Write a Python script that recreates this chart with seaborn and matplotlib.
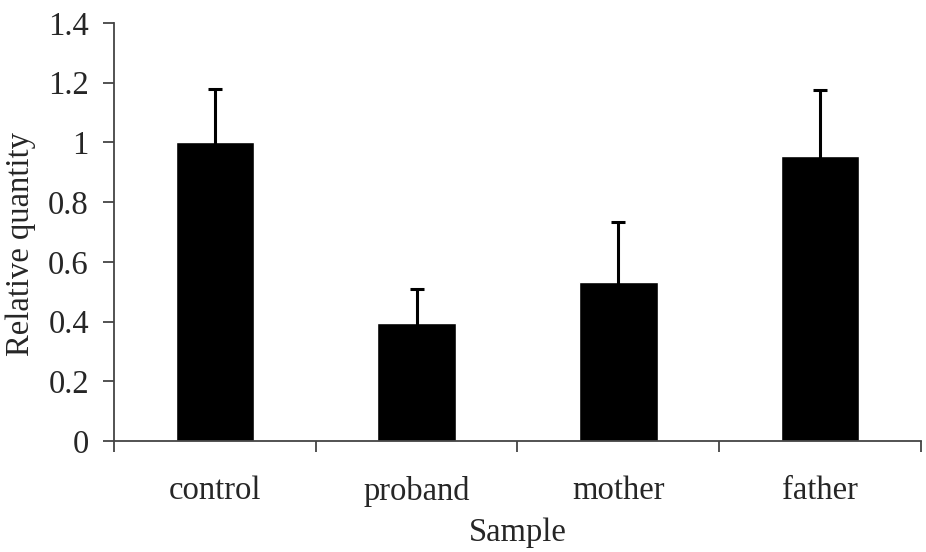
import pandas as pd
import matplotlib
matplotlib.use("Agg")
import matplotlib.pyplot as plt
import seaborn as sns

# values
samples = ['control', 'proband', 'mother', 'father']
quantity = [1.00, 0.394, 0.532, 0.956]
error = [0.18, 0.114, 0.203, 0.218]

df = pd.DataFrame({'Sample': samples, 'Relative quantity': quantity})

sns.set_style('ticks')
plt.rcParams['font.family'] = ['Liberation Serif', 'DejaVu Serif']

fig = plt.figure(figsize=(9.26, 5.52), dpi=100)
ax = fig.add_axes([0.1231, 0.2011, 0.8715, 0.7572])

sns.barplot(x='Sample', y='Relative quantity', data=df, color='black',
            width=0.39, errorbar=None, saturation=1, ax=ax)
ax.errorbar(range(len(samples)), quantity, yerr=error, fmt='none',
            ecolor='black', elinewidth=2.2, capsize=5, capthick=2.2)

ax.set_ylim(0, 1.4)
ax.set_xlim(-0.5, len(samples) - 0.5)
ax.set_yticks([0, 0.2, 0.4, 0.6, 0.8, 1, 1.2, 1.4])
ax.set_yticklabels(['0', '0.2', '0.4', '0.6', '0.8', '1', '1.2', '1.4'])

# ticks sit between categories, labels centred under bars
ax.set_xticks([i - 0.5 for i in range(len(samples) + 1)], minor=True)
ax.tick_params(axis='x', which='major', length=0, pad=25, labelsize=23.5)
ax.tick_params(axis='x', which='minor', length=8, width=1.3, color='#444444')
ax.tick_params(axis='y', length=8, width=1.3, color='#444444', pad=10, labelsize=23.5)

for side in ['top', 'right']:
    ax.spines[side].set_visible(False)
for side in ['left', 'bottom']:
    ax.spines[side].set_color('#444444')
    ax.spines[side].set_linewidth(1.3)

ax.set_xlabel('Sample', fontsize=23.5, labelpad=8)
ax.set_ylabel('Relative quantity', fontsize=23.5, labelpad=10)
ax.yaxis.set_label_coords(-0.097, 0.472)

fig.savefig('out.png', dpi=100)
